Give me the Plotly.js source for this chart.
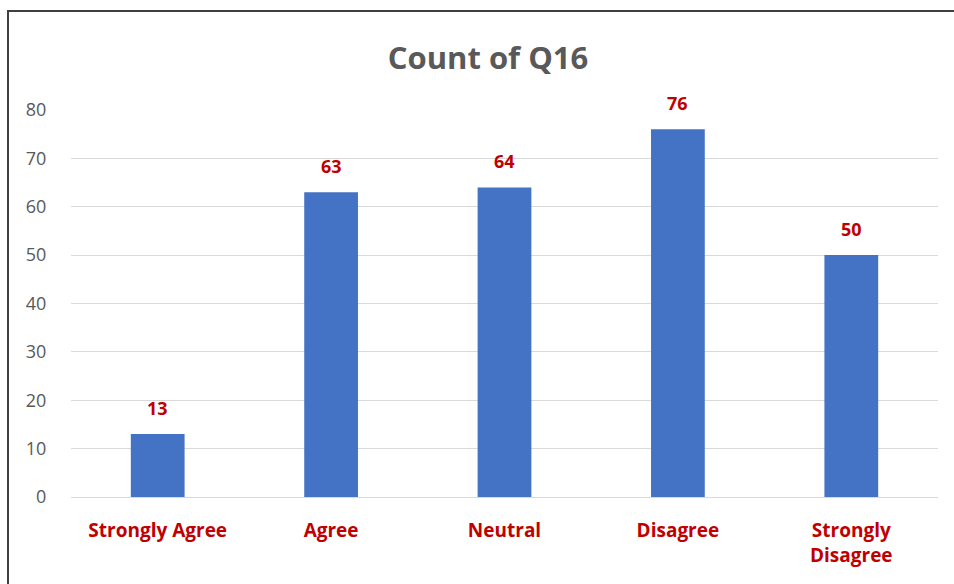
<!DOCTYPE html>
<html>
<head>
<meta charset="utf-8">
<script src="https://cdn.plot.ly/plotly-3.0.1.min.js"></script>
<style>
  html, body { margin: 0; padding: 0; background: #fff; overflow: hidden; }
  #chart { position: absolute; left: 0; top: 0; width: 954px; height: 584px; }
  #frame { position: absolute; left: 7px; top: 10px; width: 1000px; height: 1000px;
           border: 2px solid #404040; pointer-events: none; box-sizing: border-box; }
</style>
</head>
<body>
<div id="chart"></div>
<div id="frame"></div>
<script>
const categories = ["Strongly Agree", "Agree", "Neutral", "Disagree", "Strongly<br>Disagree"];
const counts = [13, 63, 64, 76, 50];
const yTicks = [0, 10, 20, 30, 40, 50, 60, 70, 80];

const FONT = "Open Sans, Noto Sans, sans-serif";
const RED = "#C00000";

const trace = {
  type: "bar",
  x: categories,
  y: counts,
  marker: { color: "#4472C4" },
  hoverinfo: "x+y"
};

const annotations = categories.map((c, i) => ({
  x: c, y: counts[i], xref: "x", yref: "y",
  text: "<b>" + counts[i] + "</b>",
  showarrow: false, yshift: 26,
  font: { family: FONT, size: 18, color: RED }
}));

const layout = {
  width: 954, height: 584,
  margin: { l: 71, r: 16, t: 110, b: 87 },
  paper_bgcolor: "#ffffff",
  plot_bgcolor: "#ffffff",
  bargap: 0.69,
  showlegend: false,
  title: {
    text: "<b>Count of Q16</b>",
    font: { family: FONT, size: 31, color: "#595959" },
    x: 488 / 954, xref: "container", xanchor: "center",
    y: 1 - 58 / 584, yref: "container", yanchor: "middle"
  },
  xaxis: {
    type: "category",
    tickfont: { family: FONT, size: 19, color: RED, weight: "bold" },
    ticks: "outside", ticklen: 16, tickcolor: "rgba(0,0,0,0)",
    showgrid: false, zeroline: false, showline: false
  },
  yaxis: {
    range: [0, 80],
    tickvals: yTicks,
    tickfont: { family: FONT, size: 18, color: "#595959" },
    ticks: "outside", ticklen: 20, tickcolor: "rgba(0,0,0,0)",
    showgrid: true, gridcolor: "#d9d9d9", gridwidth: 1,
    zeroline: true, zerolinecolor: "#d9d9d9", zerolinewidth: 1,
    showline: false, fixedrange: true
  },
  annotations: annotations
};

Plotly.newPlot("chart", [trace], layout, { displayModeBar: false, staticPlot: true });
</script>
</body>
</html>
